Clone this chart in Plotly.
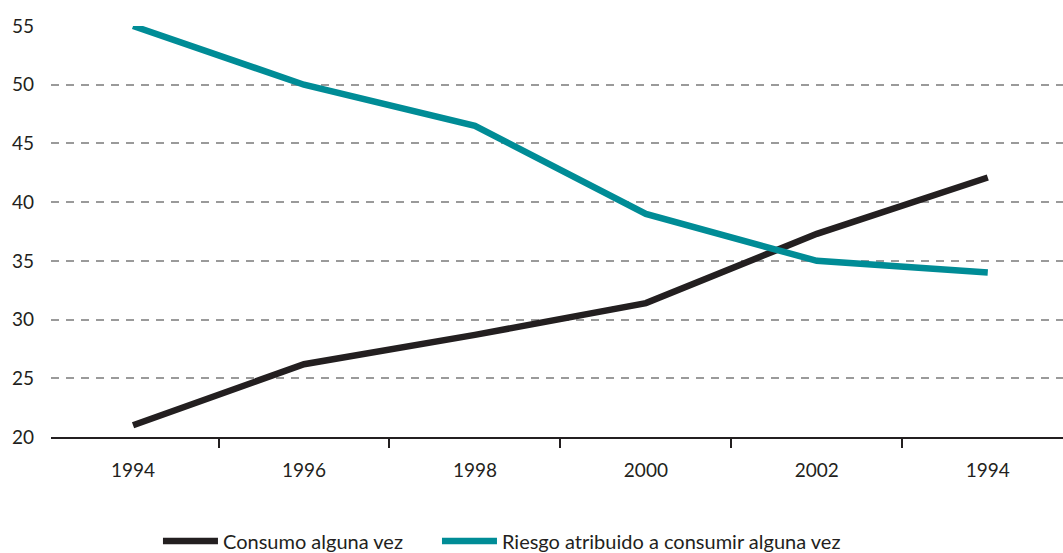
import plotly.graph_objects as go

# Data
tick_labels = ["1994", "1996", "1998", "2000", "2002", "1994"]
consumo = [21.0, 26.2, 28.7, 31.4, 37.3, 42.1]
riesgo = [55.0, 50.0, 46.5, 39.0, 35.0, 34.0]
y_ticks = [20, 25, 30, 35, 40, 45, 50, 55]

pos = list(range(len(tick_labels)))
boundaries = [p - 0.5 for p in pos]

FONT = "Lato"
DARK = "#231f20"
TEAL = "#008c96"

fig = go.Figure()
fig.add_trace(go.Scatter(x=pos, y=consumo, mode="lines", name="Consumo alguna vez",
                         line=dict(color=DARK, width=6.5), legend="legend"))
fig.add_trace(go.Scatter(x=pos, y=riesgo, mode="lines", name="Riesgo atribuido a consumir alguna vez",
                         line=dict(color=TEAL, width=6.5), legend="legend2"))
# invisible trace on xaxis2 for boundary tick marks
fig.add_trace(go.Scatter(x=[boundaries[0]], y=[20], xaxis="x2", mode="markers",
                         marker=dict(opacity=0), showlegend=False, hoverinfo="skip"))

xr = [-0.48, 5.44]
leg_common = dict(orientation="h", yref="container", yanchor="middle", y=0.0217,
                  xanchor="left", font=dict(family=FONT, size=20, color=DARK), itemwidth=55,
                  bgcolor="rgba(0,0,0,0)")
fig.update_layout(
    width=1063, height=553,
    margin=dict(l=51, r=0, t=26, b=116, autoexpand=False),
    paper_bgcolor="white", plot_bgcolor="white",
    font=dict(family=FONT, size=19, color=DARK),
    showlegend=True,
    legend=dict(x=0.1057, **leg_common),
    legend2=dict(x=0.3814, **leg_common),
    xaxis=dict(range=xr, tickmode="array", tickvals=pos, ticktext=tick_labels,
               ticks="", showgrid=False, zeroline=False, showline=False,
               ticklabelstandoff=20,
               tickfont=dict(family=FONT, size=19, color=DARK)),
    xaxis2=dict(range=xr, overlaying="x", tickmode="array", tickvals=boundaries,
                showticklabels=False, ticks="outside", ticklen=9, tickwidth=1.5,
                tickcolor=DARK, showline=True, linecolor=DARK, linewidth=1.5,
                showgrid=False, zeroline=False, side="bottom", anchor="y"),
    yaxis=dict(range=[20, 55], tickmode="array", tickvals=y_ticks,
               showgrid=True, gridcolor="#9a9a9a", gridwidth=1.5, griddash="8px,7px",
               zeroline=False, showline=False, ticks="", ticklabelstandoff=16,
               tickfont=dict(family=FONT, size=19, color=DARK)),
)

fig.write_html("out.html", config={"displayModeBar": False},
               post_script="document.body.style.margin='0';")
